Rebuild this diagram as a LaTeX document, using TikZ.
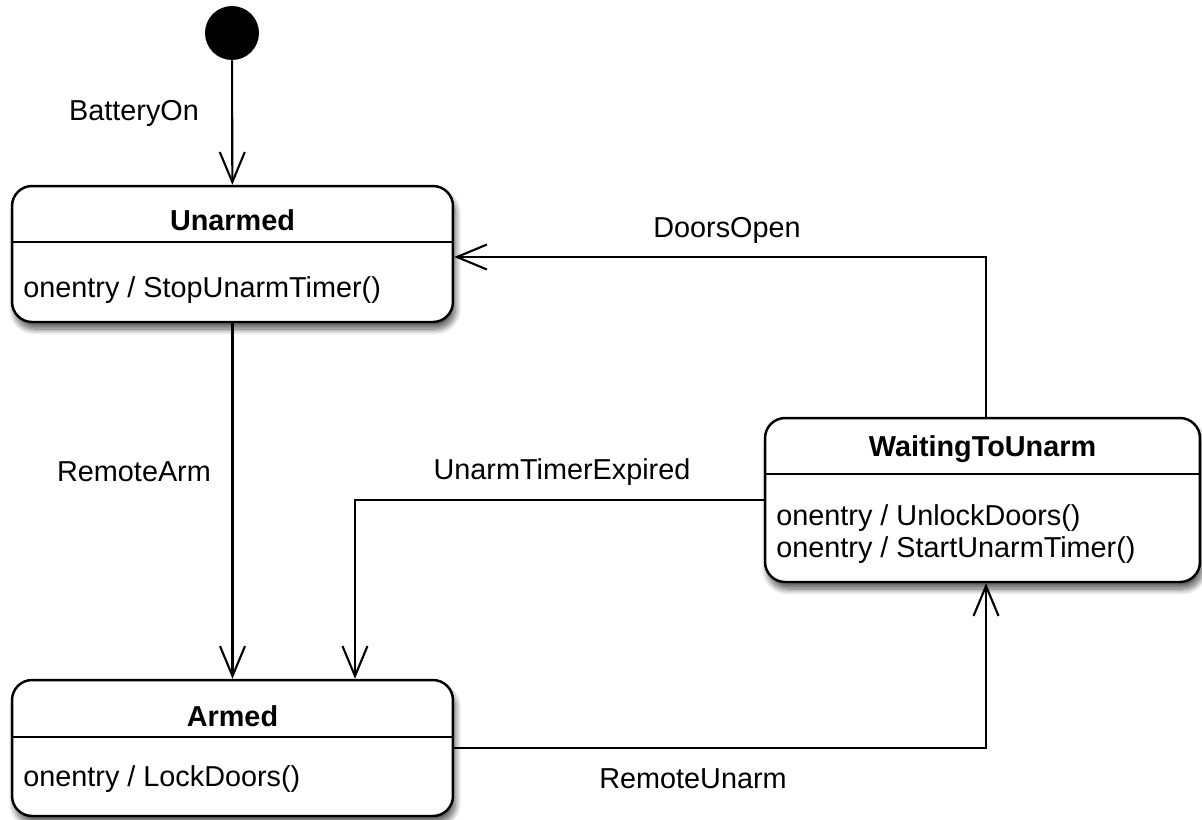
\documentclass[tikz,border=0pt]{standalone}
\usepackage{fontspec}
\setmainfont{Liberation Sans}
\usetikzlibrary{positioning,arrows.meta,calc,shadows.blur}

\begin{document}
\begin{tikzpicture}[x=0.02cm,y=-0.02cm,>={Straight Barb[length=0.6cm,width=0.5cm]},
  font=\fontsize{16.4}{18.5}\selectfont,
  state/.style={draw,line width=1.4pt,rounded corners=0.4cm,fill=white,
                minimum width=8.82cm,
                blur shadow={shadow xshift=0.05cm,shadow yshift=-0.14cm,
                             shadow blur radius=0.12cm,
                             shadow blur steps=10,shadow opacity=65}},
  title/.style={font=\fontsize{16.4}{18.5}\selectfont\bfseries},
  body/.style={anchor=west,align=left,inner sep=0pt},
  sep/.style={line width=1.2pt},
  trans/.style={->,line width=1.2pt},
  lbl/.style={inner sep=1pt}]
\useasboundingbox (0,0) rectangle (1202,819);

% initial pseudo state
\node[circle,fill=black,minimum size=1.08cm,inner sep=0pt] (init) at (232,33) {};

% states
\node[state,minimum height=2.72cm] (unarmed) at (232.5,254) {};
\node[title] (unarmed-t) at (232.5,220) {Unarmed};
\draw[sep] (unarmed.west |- 0,242) -- (unarmed.east |- 0,242);
\node[body] (unarmed-b) at (23,290) {onentry / StopUnarmTimer()};

\node[state,minimum height=2.72cm] (armed) at (232.5,748) {};
\node[title] (armed-t) at (232.5,716) {Armed};
\draw[sep] (armed.west |- 0,737) -- (armed.east |- 0,737);
\node[body] (armed-b) at (23,779) {onentry / LockDoors()};

\node[state,minimum width=8.7cm,minimum height=3.28cm] (waiting) at (982.5,500) {};
\node[title] (waiting-t) at (982.5,449) {WaitingToUnarm};
\draw[sep] (waiting.west |- 0,474) -- (waiting.east |- 0,474);
\node[body] (waiting-b) at (776,534) {onentry / UnlockDoors()\\onentry / StartUnarmTimer()};

% transitions
\draw[trans] (init) -- (unarmed);
\draw[trans] (unarmed) -- (armed);
\draw[trans] ([xshift=0.07cm]waiting.north) |- ([yshift=-0.06cm]unarmed.east);
\draw[trans] (waiting.west) -| ([xshift=2.45cm]armed.north);
\draw[trans] (armed.east) -| ([xshift=0.07cm]waiting.south);

% transition labels
\node[lbl] (batteryon) at (134,113) {BatteryOn};
\node[lbl] (remotearm) at (134,472) {RemoteArm};
\node[lbl] (doorsopen) at (727,230) {DoorsOpen};
\node[lbl] (timerexp) at (562,472) {UnarmTimerExpired};
\node[lbl] (remoteunarm) at (693,779) {RemoteUnarm};
\end{tikzpicture}
\end{document}
